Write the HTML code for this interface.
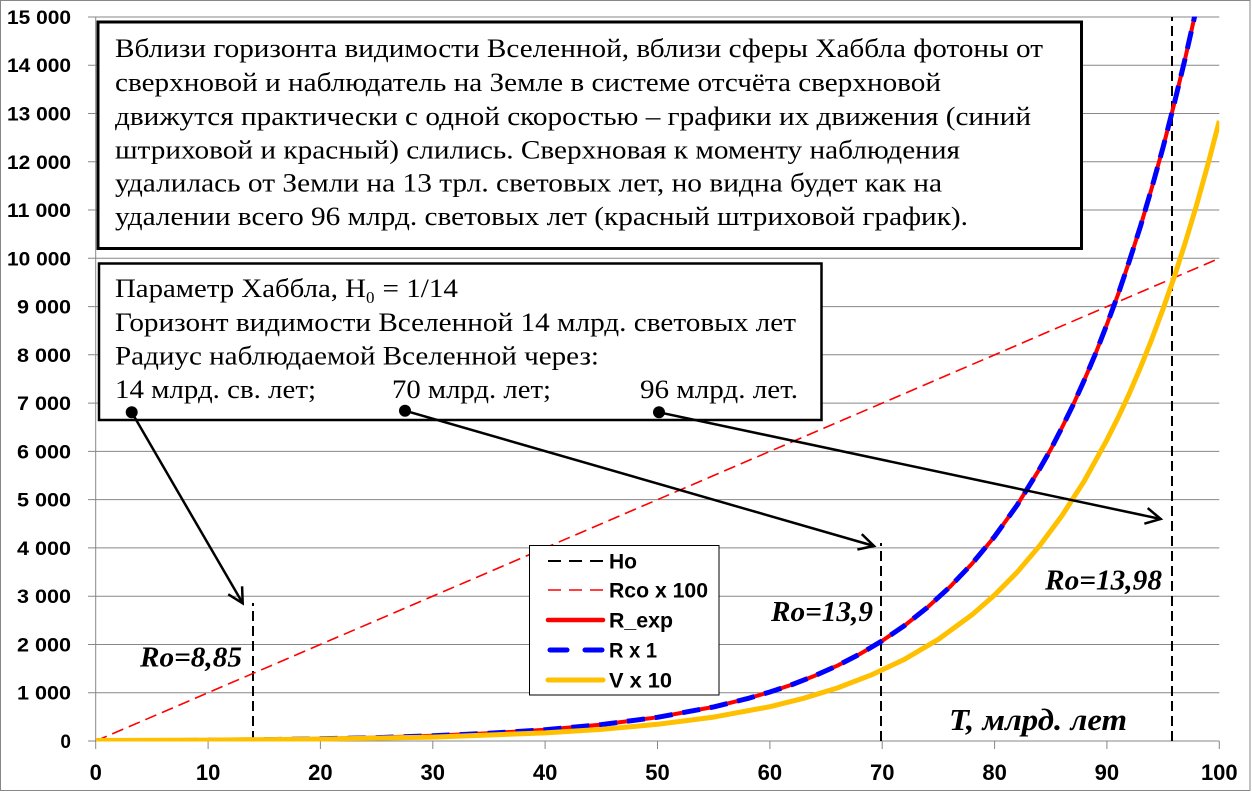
<!DOCTYPE html>
<html>
<head>
<meta charset="utf-8">
<style>
  html,body{margin:0;padding:0;background:#fff;}
  svg{display:block;}
  .yl{font-family:"Liberation Sans",sans-serif;font-weight:bold;font-size:19px;fill:#000;}
  .xl{font-family:"Liberation Sans",sans-serif;font-weight:bold;font-size:22px;fill:#000;}
  .lg{font-family:"Liberation Sans",sans-serif;font-weight:bold;font-size:21px;fill:#000;}
  .tb{font-family:"Liberation Serif","Noto Serif CJK SC",serif;font-size:26px;fill:#000;}
  .an{font-family:"Liberation Serif",serif;font-weight:bold;font-style:italic;font-size:28px;fill:#000;}
</style>
</head>
<body>
<svg width="1252" height="792" viewBox="0 0 1252 792" xmlns="http://www.w3.org/2000/svg">
  <defs>
    <clipPath id="pa"><rect x="95.7" y="16.5" width="1123.6" height="725"/></clipPath>
    <marker id="ah" markerUnits="userSpaceOnUse" markerWidth="30" markerHeight="30" refX="0" refY="0" viewBox="-20 -15 30 30" orient="auto">
      <path d="M-15,-8 L0,0 L-15,8" fill="none" stroke="#000" stroke-width="2.5"/>
    </marker>
  </defs>
  <rect x="0" y="0" width="1252" height="792" fill="#fff"/>
  <rect x="0.5" y="0.5" width="1249.5" height="790" fill="none" stroke="#878787" stroke-width="1"/>

  <!-- gridlines -->
  <g stroke="#878787" stroke-width="1">
    <line x1="88" y1="692.7" x2="1219.3" y2="692.7"/>
    <line x1="88" y1="644.5" x2="1219.3" y2="644.5"/>
    <line x1="88" y1="596.2" x2="1219.3" y2="596.2"/>
    <line x1="88" y1="547.9" x2="1219.3" y2="547.9"/>
    <line x1="88" y1="499.6" x2="1219.3" y2="499.6"/>
    <line x1="88" y1="451.4" x2="1219.3" y2="451.4"/>
    <line x1="88" y1="403.1" x2="1219.3" y2="403.1"/>
    <line x1="88" y1="354.8" x2="1219.3" y2="354.8"/>
    <line x1="88" y1="306.6" x2="1219.3" y2="306.6"/>
    <line x1="88" y1="258.3" x2="1219.3" y2="258.3"/>
    <line x1="88" y1="210.0" x2="1219.3" y2="210.0"/>
    <line x1="88" y1="161.8" x2="1219.3" y2="161.8"/>
    <line x1="88" y1="113.5" x2="1219.3" y2="113.5"/>
    <line x1="88" y1="65.2" x2="1219.3" y2="65.2"/>
    <line x1="88" y1="17" x2="1219.3" y2="17"/>
    <!-- y axis -->
    <line x1="95.7" y1="17" x2="95.7" y2="741"/>
    <line x1="88" y1="741" x2="1219.3" y2="741"/>
    <!-- x ticks -->
    <line x1="95.7" y1="741" x2="95.7" y2="749"/>
    <line x1="208.1" y1="741" x2="208.1" y2="749"/>
    <line x1="320.4" y1="741" x2="320.4" y2="749"/>
    <line x1="432.8" y1="741" x2="432.8" y2="749"/>
    <line x1="545.1" y1="741" x2="545.1" y2="749"/>
    <line x1="657.5" y1="741" x2="657.5" y2="749"/>
    <line x1="769.9" y1="741" x2="769.9" y2="749"/>
    <line x1="882.2" y1="741" x2="882.2" y2="749"/>
    <line x1="994.6" y1="741" x2="994.6" y2="749"/>
    <line x1="1106.9" y1="741" x2="1106.9" y2="749"/>
    <line x1="1219.3" y1="741" x2="1219.3" y2="749"/>
  </g>

  <!-- y labels -->
  <g class="yl" text-anchor="end">
    <text x="71" y="748">0</text>
    <text x="71" y="699.7" textLength="54" lengthAdjust="spacingAndGlyphs">1 000</text>
    <text x="71" y="651.5" textLength="54" lengthAdjust="spacingAndGlyphs">2 000</text>
    <text x="71" y="603.2" textLength="54" lengthAdjust="spacingAndGlyphs">3 000</text>
    <text x="71" y="554.9" textLength="54" lengthAdjust="spacingAndGlyphs">4 000</text>
    <text x="71" y="506.6" textLength="54" lengthAdjust="spacingAndGlyphs">5 000</text>
    <text x="71" y="458.4" textLength="54" lengthAdjust="spacingAndGlyphs">6 000</text>
    <text x="71" y="410.1" textLength="54" lengthAdjust="spacingAndGlyphs">7 000</text>
    <text x="71" y="361.8" textLength="54" lengthAdjust="spacingAndGlyphs">8 000</text>
    <text x="71" y="313.6" textLength="54" lengthAdjust="spacingAndGlyphs">9 000</text>
    <text x="71" y="265.3" textLength="64" lengthAdjust="spacingAndGlyphs">10 000</text>
    <text x="71" y="217.0" textLength="64" lengthAdjust="spacingAndGlyphs">11 000</text>
    <text x="71" y="168.8" textLength="64" lengthAdjust="spacingAndGlyphs">12 000</text>
    <text x="71" y="120.5" textLength="64" lengthAdjust="spacingAndGlyphs">13 000</text>
    <text x="71" y="72.2" textLength="64" lengthAdjust="spacingAndGlyphs">14 000</text>
    <text x="71" y="24" textLength="64" lengthAdjust="spacingAndGlyphs">15 000</text>
  </g>

  <!-- x labels -->
  <g class="xl" text-anchor="middle">
    <text x="95.7" y="780">0</text>
    <text x="208.1" y="780">10</text>
    <text x="320.4" y="780">20</text>
    <text x="432.8" y="780">30</text>
    <text x="545.1" y="780">40</text>
    <text x="657.5" y="780">50</text>
    <text x="769.9" y="780">60</text>
    <text x="882.2" y="780">70</text>
    <text x="994.6" y="780">80</text>
    <text x="1106.9" y="780">90</text>
    <text x="1219.3" y="780">100</text>
  </g>

  <!-- series -->
  <g clip-path="url(#pa)" fill="none" stroke-linejoin="round">
    <!-- Ho -->
    <g stroke="#000" stroke-width="2" stroke-dasharray="10 5">
      <line x1="253" y1="741" x2="253" y2="603"/>
      <line x1="881" y1="741" x2="881" y2="543"/>
      <line x1="1172" y1="741" x2="1172" y2="17"/>
    </g>
    <!-- Rco x 100 -->
    <line x1="95.7" y1="741" x2="1219.3" y2="258.3" stroke="#ff0000" stroke-width="1.6" stroke-dasharray="12 6"/>
    <!-- R_exp -->
    <polyline stroke="#ff0000" stroke-width="4" points="95.7,741 151.9,740.7 208.1,740.3 264.2,739.7 320.4,738.8 376.6,737.6 432.8,735.8 489,733.3 545.1,729.7 601.3,724.6 657.5,717.3 713.7,706.9 747.4,698.6 769.9,692 792.3,684.5 814.8,675.7 837.3,665.7 859.7,654.1 882.2,640.8 904.7,625.4 927.2,607.6 949.6,587.2 972.1,563.6 994.6,536.5 1017.1,505.2 1039.5,469.1 1050.8,449.3 1062,427.5 1073.2,404.7 1084.5,379.6 1095.7,353.2 1106.9,324.4 1118.2,294.1 1129.4,260.8 1140.6,225.9 1151.9,187.5 1163.1,147.2 1174.4,103 1185.6,56.6 1194.5,17 1197,5"/>
    <!-- R x 1 -->
    <polyline stroke="#0000ff" stroke-width="5" stroke-dasharray="18 10" points="95.7,741 151.9,740.7 208.1,740.3 264.2,739.7 320.4,738.8 376.6,737.6 432.8,735.8 489,733.3 545.1,729.7 601.3,724.6 657.5,717.3 713.7,706.9 747.4,698.6 769.9,692 792.3,684.5 814.8,675.7 837.3,665.7 859.7,654.1 882.2,640.8 904.7,625.4 927.2,607.6 949.6,587.2 972.1,563.6 994.6,536.5 1017.1,505.2 1039.5,469.1 1050.8,449.3 1062,427.5 1073.2,404.7 1084.5,379.6 1095.7,353.2 1106.9,324.4 1118.2,294.1 1129.4,260.8 1140.6,225.9 1151.9,187.5 1163.1,147.2 1174.4,103 1185.6,56.6 1194.5,17 1197,5"/>
    <!-- V x 10 -->
    <polyline stroke="#ffc000" stroke-width="5" points="95.7,740.5 208.1,740.1 320.4,739.1 432.8,737.1 545.1,732.9 601.3,729.4 657.5,724.3 713.7,717.1 769.9,706.7 803.6,698.3 837.3,688 871,675.1 904.7,659.2 938.4,639.3 972.1,614.7 994.6,595 1017.1,572.3 1039.5,545.9 1062,515.6 1084.5,480.6 1106.9,439.9 1118.2,417.4 1129.4,393.3 1140.6,367.1 1151.9,338.9 1163.1,308.8 1174.4,276.5 1185.6,241.5 1196.8,204.3 1208.1,163.7 1219.3,120.9"/>
  </g>

  <!-- text box 1 -->
  <rect x="98" y="22" width="983.5" height="226.5" fill="#fff" stroke="#000" stroke-width="3"/>
  <g class="tb">
    <text x="115" y="57" textLength="928" lengthAdjust="spacingAndGlyphs">Вблизи горизонта видимости Вселенной, вблизи сферы Хаббла фотоны от</text>
    <text x="115" y="91" textLength="826" lengthAdjust="spacingAndGlyphs">сверхновой и наблюдатель на Земле в системе отсчёта сверхновой</text>
    <text x="115" y="125" textLength="916" lengthAdjust="spacingAndGlyphs">движутся практически с одной скоростью – графики их движения (синий</text>
    <text x="115" y="158.3" textLength="845" lengthAdjust="spacingAndGlyphs">штриховой и красный) слились. Сверхновая к моменту наблюдения</text>
    <text x="115" y="191.7" textLength="827" lengthAdjust="spacingAndGlyphs">удалилась  от Земли на 13 трл. световых лет, но видна будет как на</text>
    <text x="115" y="225" textLength="853" lengthAdjust="spacingAndGlyphs">удалении всего 96 млрд. световых лет (красный штриховой график).</text>
  </g>

  <!-- text box 2 -->
  <rect x="99" y="263.5" width="722.5" height="156.5" fill="#fff" stroke="#000" stroke-width="2.5"/>
  <g class="tb">
    <text x="115" y="297" textLength="251" lengthAdjust="spacingAndGlyphs">Параметр  Хаббла, H</text>
    <text x="366" y="303" style="font-size:17px">0</text>
    <text x="382.5" y="297" textLength="75.5" lengthAdjust="spacingAndGlyphs">= 1/14</text>
    <text x="115" y="331" textLength="681" lengthAdjust="spacingAndGlyphs">Горизонт видимости Вселенной 14 млрд. световых лет</text>
    <text x="115" y="364.5" textLength="484" lengthAdjust="spacingAndGlyphs">Радиус наблюдаемой Вселенной через:</text>
    <text x="115" y="398" textLength="201" lengthAdjust="spacingAndGlyphs">14 млрд. св. лет;</text>
    <text x="392" y="398" textLength="159" lengthAdjust="spacingAndGlyphs">70 млрд. лет;</text>
    <text x="640" y="398" textLength="158" lengthAdjust="spacingAndGlyphs">96 млрд. лет.</text>
  </g>

  <!-- arrows -->
  <g stroke="#000" stroke-width="2.5" fill="none">
    <line x1="131.7" y1="412.3" x2="242.7" y2="603.3" marker-end="url(#ah)"/>
    <line x1="405" y1="410.7" x2="874" y2="546" marker-end="url(#ah)"/>
    <line x1="659" y1="412.3" x2="1160.7" y2="519" marker-end="url(#ah)"/>
  </g>
  <g fill="#000">
    <circle cx="131.7" cy="412.3" r="6"/>
    <circle cx="405" cy="410.7" r="6"/>
    <circle cx="659" cy="412.3" r="6"/>
  </g>

  <!-- annotations -->
  <g class="an">
    <text x="140" y="666.5" textLength="102" lengthAdjust="spacingAndGlyphs">Ro=8,85</text>
    <text x="771" y="621" textLength="102" lengthAdjust="spacingAndGlyphs">Ro=13,9</text>
    <text x="1045" y="589.3" textLength="117" lengthAdjust="spacingAndGlyphs">Ro=13,98</text>
    <text x="949" y="730" style="font-size:31px" textLength="178" lengthAdjust="spacingAndGlyphs">T, млрд. лет</text>
  </g>

  <!-- legend -->
  <rect x="529.5" y="545.5" width="189.5" height="149.5" fill="#fff" stroke="#000" stroke-width="1"/>
  <g fill="none">
    <line x1="548" y1="561" x2="603" y2="561" stroke="#000" stroke-width="2" stroke-dasharray="13 8"/>
    <line x1="548" y1="590" x2="603" y2="590" stroke="#ff0000" stroke-width="1.6" stroke-dasharray="13 8"/>
    <line x1="548" y1="620" x2="603" y2="620" stroke="#ff0000" stroke-width="4.5" stroke-linecap="round"/>
    <line x1="550" y1="650" x2="603" y2="650" stroke="#0000ff" stroke-width="5" stroke-dasharray="17 18" stroke-linecap="round"/>
    <line x1="548" y1="680" x2="603" y2="680" stroke="#ffc000" stroke-width="5" stroke-linecap="round"/>
  </g>
  <g class="lg">
    <text x="609" y="568.5" textLength="28" lengthAdjust="spacingAndGlyphs">Ho</text>
    <text x="609" y="597.5" textLength="99" lengthAdjust="spacingAndGlyphs">Rco x 100</text>
    <text x="609" y="627.5" textLength="64" lengthAdjust="spacingAndGlyphs">R_exp</text>
    <text x="609" y="657.5" textLength="48" lengthAdjust="spacingAndGlyphs">R x 1</text>
    <text x="609" y="687.5" textLength="63" lengthAdjust="spacingAndGlyphs">V x 10</text>
  </g>
</svg>
</body>
</html>
